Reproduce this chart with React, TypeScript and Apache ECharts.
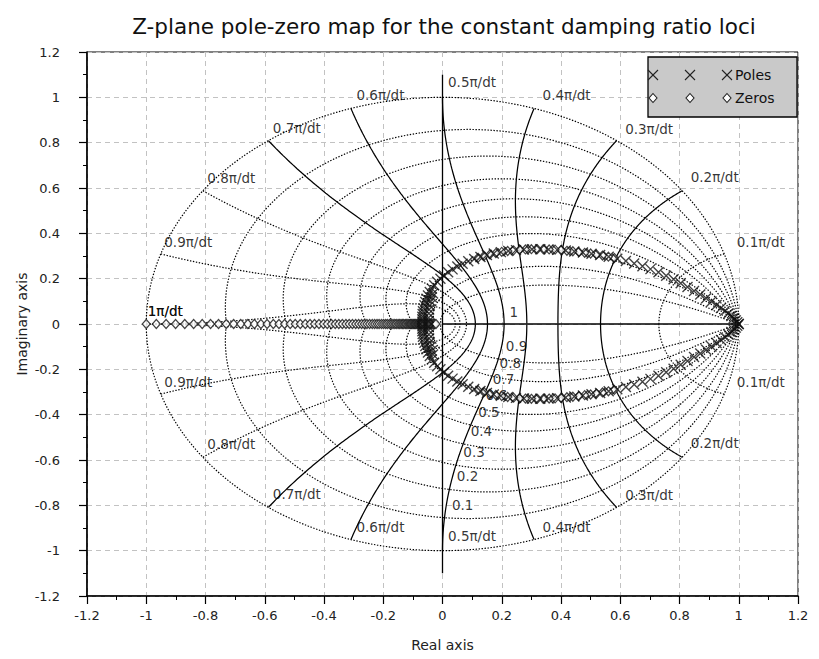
import React, { useEffect, useRef } from "react";
import * as echarts from "echarts";

// ---- grid definitions (zgrid) ----
const dampingRatios = [0, 0.1, 0.2, 0.3, 0.4, 0.5, 0.6, 0.7, 0.8, 0.9];
const dampingLabelValues = [0.1, 0.2, 0.3, 0.4, 0.5, 0.6, 0.7, 0.8, 0.9, 1];
const dampingLabels = ["0.1", "0.2", "0.3", "0.4", "0.5", "0.6", "0.7", "0.8", "0.9", "1"];
const naturalFreqs = [0.1, 0.2, 0.3, 0.4, 0.5, 0.6, 0.7, 0.8, 0.9, 1];
const naturalFreqLabels = ["0.1π/dt", "0.2π/dt", "0.3π/dt", "0.4π/dt", "0.5π/dt", "0.6π/dt", "0.7π/dt", "0.8π/dt", "0.9π/dt", "1π/dt"];
const solidFreqs = [0.2, 0.3, 0.4, 0.5, 0.6, 0.7];
const imagAxisExtent = 1.1;

// ---- axis ticks ----
const axisMin = -1.2;
const axisMax = 1.2;
const axisStep = 0.2;

// ---- poles (x) ----
const polesUpper: [number, number][] = [
  [1.0, 0.0], [0.995, 0.008], [0.99, 0.016], [0.983, 0.025], [0.975, 0.035], [0.965, 0.046],
  [0.953, 0.058], [0.94, 0.07], [0.925, 0.084], [0.908, 0.099], [0.89, 0.114], [0.87, 0.13],
  [0.849, 0.146], [0.827, 0.163], [0.804, 0.18], [0.78, 0.197], [0.755, 0.213], [0.729, 0.228],
  [0.702, 0.242], [0.675, 0.255], [0.647, 0.267], [0.619, 0.278], [0.59, 0.288], [0.561, 0.297],
  [0.532, 0.304], [0.503, 0.31], [0.474, 0.315], [0.445, 0.32], [0.416, 0.324], [0.387, 0.327],
  [0.358, 0.329], [0.33, 0.33], [0.302, 0.33], [0.275, 0.329], [0.248, 0.326], [0.222, 0.322],
  [0.197, 0.317], [0.173, 0.311], [0.15, 0.304], [0.128, 0.296], [0.107, 0.287], [0.087, 0.277],
  [0.068, 0.266], [0.05, 0.254], [0.034, 0.241], [0.019, 0.228], [0.005, 0.214], [-0.007, 0.2],
  [-0.018, 0.186], [-0.028, 0.171], [-0.036, 0.156], [-0.043, 0.141], [-0.049, 0.126],
  [-0.054, 0.111], [-0.058, 0.097], [-0.061, 0.083], [-0.064, 0.069], [-0.066, 0.056],
  [-0.067, 0.044], [-0.068, 0.032], [-0.068, 0.021], [-0.068, 0.01],
  [-0.032, 0.135], [-0.036, 0.118], [-0.04, 0.1], [-0.043, 0.082], [-0.045, 0.064],
  [-0.046, 0.046], [-0.047, 0.028], [-0.047, 0.012]
];
const polesLower: [number, number][] = [
  [1.0, -0.0], [0.995, -0.008], [0.99, -0.016], [0.983, -0.025], [0.975, -0.035], [0.965, -0.046],
  [0.953, -0.058], [0.94, -0.07], [0.925, -0.084], [0.908, -0.099], [0.89, -0.114], [0.87, -0.13],
  [0.849, -0.146], [0.827, -0.163], [0.804, -0.18], [0.78, -0.197], [0.755, -0.213], [0.729, -0.228],
  [0.702, -0.242], [0.675, -0.255], [0.647, -0.267], [0.619, -0.278], [0.59, -0.288], [0.561, -0.297],
  [0.532, -0.304], [0.503, -0.31], [0.474, -0.315], [0.445, -0.32], [0.416, -0.324], [0.387, -0.327],
  [0.358, -0.329], [0.33, -0.33], [0.302, -0.33], [0.275, -0.329], [0.248, -0.326], [0.222, -0.322],
  [0.197, -0.317], [0.173, -0.311], [0.15, -0.304], [0.128, -0.296], [0.107, -0.287], [0.087, -0.277],
  [0.068, -0.266], [0.05, -0.254], [0.034, -0.241], [0.019, -0.228], [0.005, -0.214], [-0.007, -0.2],
  [-0.018, -0.186], [-0.028, -0.171], [-0.036, -0.156], [-0.043, -0.141], [-0.049, -0.126],
  [-0.054, -0.111], [-0.058, -0.097], [-0.061, -0.083], [-0.064, -0.069], [-0.066, -0.056],
  [-0.067, -0.044], [-0.068, -0.032], [-0.068, -0.021], [-0.068, -0.01],
  [-0.032, -0.135], [-0.036, -0.118], [-0.04, -0.1], [-0.043, -0.082], [-0.045, -0.064],
  [-0.046, -0.046], [-0.047, -0.028], [-0.047, -0.012]
];

// ---- zeros (diamond) ----
const zerosLoopUpper: [number, number][] = [
  [0.58, 0.291], [0.56, 0.297], [0.54, 0.302], [0.52, 0.307], [0.5, 0.311], [0.48, 0.314],
  [0.46, 0.318], [0.44, 0.321], [0.42, 0.323], [0.4, 0.326], [0.38, 0.328], [0.36, 0.329],
  [0.34, 0.33], [0.32, 0.33], [0.3, 0.33], [0.28, 0.329], [0.26, 0.327], [0.24, 0.325],
  [0.22, 0.322], [0.2, 0.318], [0.18, 0.313], [0.16, 0.307], [0.14, 0.3], [0.12, 0.292]
];
const zerosLoopLower: [number, number][] = [
  [0.58, -0.291], [0.56, -0.297], [0.54, -0.302], [0.52, -0.307], [0.5, -0.311], [0.48, -0.314],
  [0.46, -0.318], [0.44, -0.321], [0.42, -0.323], [0.4, -0.326], [0.38, -0.328], [0.36, -0.329],
  [0.34, -0.33], [0.32, -0.33], [0.3, -0.33], [0.28, -0.329], [0.26, -0.327], [0.24, -0.325],
  [0.22, -0.322], [0.2, -0.318], [0.18, -0.313], [0.16, -0.307], [0.14, -0.3], [0.12, -0.292]
];
const zerosRealAxis: number[] = [
  -1.0, -0.966, -0.933, -0.901, -0.87, -0.84, -0.811, -0.783, -0.756, -0.73, -0.705, -0.681,
  -0.657, -0.635, -0.613, -0.592, -0.571, -0.552, -0.533, -0.514, -0.497, -0.48, -0.463, -0.447,
  -0.432, -0.417, -0.402, -0.389, -0.375, -0.362, -0.35, -0.338, -0.326, -0.315, -0.304, -0.293,
  -0.283, -0.273, -0.264, -0.255, -0.246, -0.237, -0.229, -0.221, -0.214, -0.206, -0.199, -0.192,
  -0.186, -0.179, -0.173, -0.167, -0.161, -0.156, -0.15, -0.145, -0.14, -0.135, -0.131, -0.126,
  -0.122, -0.117, -0.113, -0.109, -0.106, -0.102, -0.098, -0.095, -0.092, -0.089, -0.085, -0.083,
  -0.08, -0.077, -0.074, -0.072, -0.07, -0.066, -0.062, -0.058, -0.054, -0.05, -0.046, -0.042,
  -0.038, -0.034, -0.03, -0.026, -0.022
];

// ---- geometry helpers for the zgrid curves ----
const N = 240;
function dampingLocus(zeta: number, sign: number) {
  const a = zeta / Math.sqrt(1 - zeta * zeta);
  const pts: number[][] = [];
  for (let i = 0; i <= N; i++) {
    const th = (Math.PI * i) / N;
    const r = Math.exp(-a * th);
    pts.push([r * Math.cos(th), sign * r * Math.sin(th)]);
  }
  return pts;
}
function freqLocus(w: number, sign: number) {
  const pts: number[][] = [];
  for (let i = 0; i <= N; i++) {
    const zeta = Math.sin(((Math.PI / 2) * i) / N);
    const r = Math.exp(-w * Math.PI * zeta);
    const th = w * Math.PI * Math.sqrt(Math.max(0, 1 - zeta * zeta));
    pts.push([r * Math.cos(th), sign * r * Math.sin(th)]);
  }
  return pts;
}

const FONT = "DejaVu Sans";
const DOT: number[] = [1.4, 1.6];
const freqLabelOffsets: [number, number][] = [
  [12, -12], [8, -14], [8, -12], [8, -13], [5, -15], [5, -13], [4, -13], [4, -13], [3, -12], [1, -13]
];

function buildOption() {
  const series: any[] = [];
  const lineBase = { type: "line", showSymbol: false, symbol: "none", silent: true, animation: false, z: 2 };

  dampingRatios.forEach((z) => {
    [1, -1].forEach((s) => {
      series.push({ ...lineBase, data: dampingLocus(z, s), lineStyle: { color: "#000", width: 1.2, type: DOT } });
    });
  });
  // zeta = 1 locus (real axis) and the imaginary axis line
  series.push({ ...lineBase, data: [[1, 0], [0, 0]], lineStyle: { color: "#000", width: 1.3 } });
  series.push({ ...lineBase, data: [[0, -imagAxisExtent], [0, imagAxisExtent]], lineStyle: { color: "#000", width: 1.3 } });

  naturalFreqs.forEach((w) => {
    const solid = solidFreqs.indexOf(w) >= 0;
    [1, -1].forEach((s) => {
      series.push({
        ...lineBase,
        data: freqLocus(w, s),
        lineStyle: { color: "#000", width: solid ? 1.25 : 1.2, type: solid ? "solid" : DOT }
      });
    });
  });

  // natural frequency labels
  const freqLabelData: any[] = [];
  naturalFreqs.forEach((w, i) => {
    [1, -1].forEach((s) => {
      const [dx, dy] = freqLabelOffsets[i];
      freqLabelData.push({
        value: [Math.cos(w * Math.PI), s * Math.sin(w * Math.PI)],
        label: { formatter: naturalFreqLabels[i], offset: [dx, dy] }
      });
    });
  });
  const labelBase = {
    type: "scatter",
    silent: true,
    animation: false,
    symbolSize: 1,
    itemStyle: { color: "rgba(0,0,0,0)" },
    z: 3,
    label: { show: true, position: "right", distance: 0, color: "#000", fontFamily: FONT, fontSize: 13.5 }
  };
  series.push({ ...labelBase, data: freqLabelData });

  // damping ratio labels placed where each locus meets the lower 0.5π/dt curve
  const dampData = dampingLabelValues.map((z, i) => {
    const r = Math.exp(-0.5 * Math.PI * z);
    const th = -0.5 * Math.PI * Math.sqrt(Math.max(0, 1 - z * z));
    return {
      value: [r * Math.cos(th), r * Math.sin(th)],
      label: { formatter: dampingLabels[i], offset: z === 1 ? [5, -12] : [7, -13] }
    };
  });
  series.push({ ...labelBase, data: dampData });

  const crossSymbol = "path://M0,0L10,10M10,0L0,10";
  const poleStyle = { color: "rgba(0,0,0,0)", borderColor: "#111", borderWidth: 1.35 };
  const zeroStyle = { color: "#ffffff", borderColor: "#111", borderWidth: 1.2 };

  series.push({
    type: "scatter", name: "Zeros", silent: true, animation: false, z: 5,
    symbol: "diamond", symbolSize: [8, 9], itemStyle: zeroStyle,
    data: zerosRealAxis.map((x) => [x, 0])
  });
  series.push({
    type: "scatter", name: "Zeros", silent: true, animation: false, z: 5,
    symbol: "diamond", symbolSize: [8, 9], itemStyle: zeroStyle,
    data: [...zerosLoopUpper, ...zerosLoopLower]
  });
  series.push({
    type: "scatter", name: "Poles", silent: true, animation: false, z: 6,
    symbol: crossSymbol, symbolSize: 10, itemStyle: poleStyle,
    data: [...polesUpper, ...polesLower]
  });

  const fmt = (v: number) => String(Math.round(v * 10) / 10);
  const axisCommon = {
    type: "value",
    min: axisMin,
    max: axisMax,
    interval: axisStep,
    axisLine: { show: true, onZero: false, lineStyle: { color: "#000", width: 1.6 } },
    axisTick: { show: true, inside: false, length: 8, lineStyle: { color: "#000", width: 1.2 } },
    minorTick: { show: true, splitNumber: 2, length: 4, lineStyle: { color: "#000", width: 1 } },
    splitLine: { show: true, lineStyle: { color: "#c2c2c2", width: 1, type: [5, 4] } },
    nameLocation: "middle",
    nameMoveOverlap: false,
    nameTextStyle: { color: "#222", fontFamily: FONT, fontSize: 14 }
  };
  const labelStyle = { color: "#222", fontFamily: FONT, fontSize: 13, formatter: fmt };

  // legend drawn as graphic
  const lx = 648, ly = 57, lw = 149, lh = 60;
  const graphic: any[] = [
    { type: "rect", shape: { x: lx, y: ly, width: lw, height: lh }, style: { fill: "#c9c9c9", stroke: "#000", lineWidth: 1.3 }, z: 100 }
  ];
  const crossX = [653, 690, 727];
  const rowPoles = 75, rowZeros = 98;
  crossX.forEach((cx) => {
    graphic.push({ type: "line", shape: { x1: cx - 5, y1: rowPoles - 5, x2: cx + 5, y2: rowPoles + 5 }, style: { stroke: "#222", lineWidth: 1.1 }, z: 101 });
    graphic.push({ type: "line", shape: { x1: cx + 5, y1: rowPoles - 5, x2: cx - 5, y2: rowPoles + 5 }, style: { stroke: "#222", lineWidth: 1.1 }, z: 101 });
    graphic.push({
      type: "polygon",
      shape: { points: [[cx, rowZeros - 4.5], [cx + 4, rowZeros], [cx, rowZeros + 4.5], [cx - 4, rowZeros]] },
      style: { fill: "#fff", stroke: "#222", lineWidth: 1.1 }, z: 101
    });
  });
  graphic.push({ type: "text", x: 735, y: rowPoles, style: { text: "Poles", fill: "#111", font: `14px "${FONT}"`, textVerticalAlign: "middle" }, z: 101 });
  graphic.push({ type: "text", x: 735, y: rowZeros, style: { text: "Zeros", fill: "#111", font: `14px "${FONT}"`, textVerticalAlign: "middle" }, z: 101 });

  return {
    animation: false,
    backgroundColor: "#fff",
    title: {
      text: "Z-plane pole-zero map for the constant damping ratio loci",
      left: 439,
      top: 10,
      textAlign: "center",
      textStyle: { color: "#111", fontFamily: FONT, fontSize: 21.5, fontWeight: "normal" }
    },
    grid: { left: 87, right: 21, top: 52, bottom: 63, show: true, borderColor: "#000", borderWidth: 1, backgroundColor: "transparent" },
    xAxis: { ...axisCommon, axisLabel: { ...labelStyle, margin: 13 }, name: "Real axis", nameGap: 42 },
    yAxis: { ...axisCommon, axisLabel: { ...labelStyle, margin: 27 }, name: "Imaginary axis", nameGap: 58 },
    series,
    graphic
  };
}

export default function App() {
  const ref = useRef<HTMLDivElement>(null);
  useEffect(() => {
    if (!ref.current) return;
    const chart = echarts.init(ref.current, null, { renderer: "svg" });
    chart.setOption(buildOption() as any);
    return () => chart.dispose();
  }, []);
  return (
    <div
      ref={ref}
      style={{ position: "fixed", left: 0, top: 0, width: 819, height: 659, background: "#fff" }}
    />
  );
}
